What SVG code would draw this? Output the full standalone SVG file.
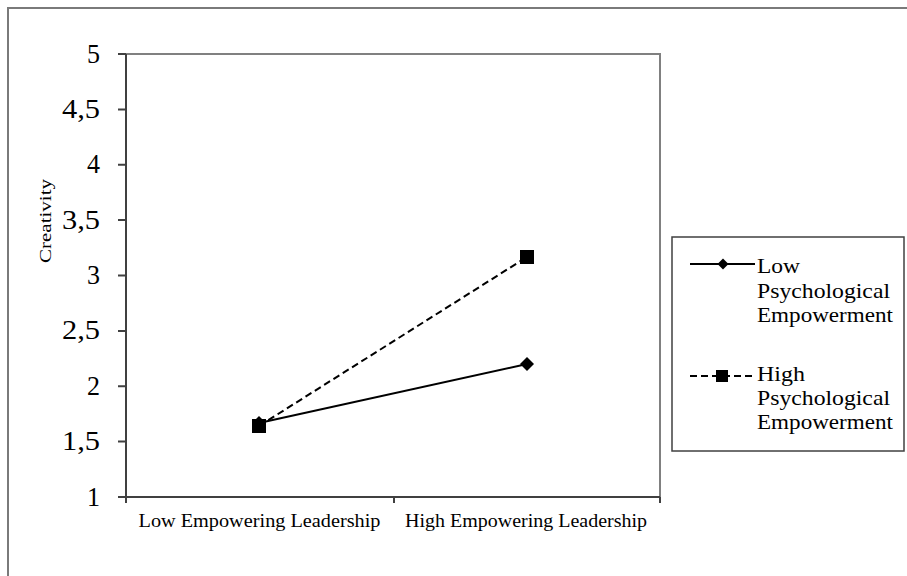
<svg xmlns="http://www.w3.org/2000/svg" width="907" height="576" viewBox="0 0 907 576">
<style>
.t{font-family:"Liberation Serif","Times New Roman",serif;fill:#000}
.ytl{font-size:27px;text-anchor:end}
.xtl{font-size:18.5px;text-anchor:middle}
.lg{font-size:21px}
.ax{stroke:#404040;stroke-width:2;fill:none}
.grid{stroke:#808080;stroke-width:2;fill:none}
.solid{stroke:#000;stroke-width:2;fill:none}
.dash{stroke:#000;stroke-width:2;fill:none;stroke-dasharray:7 4}
</style>
<rect width="907" height="576" fill="#fff"/>
<path d="M8,576 V8 H907" fill="none" stroke="#7a7a7a" stroke-width="2"/>
<g id="plot-area">
<path class="grid" d="M126,54 H660 V497"/>
<path class="ax" d="M126,54 V497 H660"/>
<path class="ax" d="M118,54 H126 M118,109.4 H126 M118,164.8 H126 M118,220.1 H126 M118,275.5 H126 M118,330.9 H126 M118,386.3 H126 M118,441.6 H126 M118,497 H126 M126,497 V503 M394,497 V503 M660,497 V503"/>
</g>
<g id="y-axis-labels" class="t ytl">
<text x="100" y="62.5" textLength="13" lengthAdjust="spacingAndGlyphs">5</text>
<text x="100" y="117.9" textLength="38" lengthAdjust="spacingAndGlyphs">4,5</text>
<text x="100" y="173.3" textLength="13" lengthAdjust="spacingAndGlyphs">4</text>
<text x="100" y="228.6" textLength="38" lengthAdjust="spacingAndGlyphs">3,5</text>
<text x="100" y="284" textLength="13" lengthAdjust="spacingAndGlyphs">3</text>
<text x="100" y="339.4" textLength="38" lengthAdjust="spacingAndGlyphs">2,5</text>
<text x="100" y="394.8" textLength="13" lengthAdjust="spacingAndGlyphs">2</text>
<text x="100" y="450.1" textLength="38" lengthAdjust="spacingAndGlyphs">1,5</text>
<text x="100" y="505.5" textLength="13" lengthAdjust="spacingAndGlyphs">1</text>
</g>
<g id="y-axis-title">
<text class="t" font-size="16" text-anchor="middle" transform="translate(51,221) rotate(-90)" textLength="84" lengthAdjust="spacingAndGlyphs">Creativity</text>
</g>
<g id="x-axis-labels" class="t xtl">
<text x="259.5" y="527" textLength="242" lengthAdjust="spacingAndGlyphs">Low Empowering Leadership</text>
<text x="526" y="527" textLength="242" lengthAdjust="spacingAndGlyphs">High Empowering Leadership</text>
</g>
<g id="connectors">
<line class="dash" x1="259" y1="426" x2="527" y2="257"/>
<line class="solid" x1="259" y1="423" x2="527" y2="364"/>
</g>
<g id="series-low">
<path d="M259,416 L266,423 L259,430 L252,423 Z" fill="#000"/>
<path d="M527,357 L534,364 L527,371 L520,364 Z" fill="#000"/>
</g>
<g id="series-high">
<rect x="252" y="419" width="14" height="14" fill="#000"/>
<rect x="520" y="250" width="14" height="14" fill="#000"/>
</g>
<g id="legend">
<rect x="672" y="237" width="232" height="214" fill="#fff" stroke="#404040" stroke-width="1.5"/>
<line class="solid" x1="690" y1="264" x2="755" y2="264"/>
<path d="M723,258.5 L728.5,264 L723,269.5 L717.5,264 Z" fill="#000"/>
<line class="dash" x1="690" y1="376" x2="755" y2="376" stroke-dasharray="6 4"/>
<rect x="716" y="370" width="12" height="12" fill="#000"/>
<g class="t lg">
<text x="757" y="273" textLength="43" lengthAdjust="spacingAndGlyphs">Low</text>
<text x="757" y="298" textLength="133" lengthAdjust="spacingAndGlyphs">Psychological</text>
<text x="757" y="322" textLength="136" lengthAdjust="spacingAndGlyphs">Empowerment</text>
<text x="757" y="381" textLength="48" lengthAdjust="spacingAndGlyphs">High</text>
<text x="757" y="405" textLength="133" lengthAdjust="spacingAndGlyphs">Psychological</text>
<text x="757" y="429" textLength="136" lengthAdjust="spacingAndGlyphs">Empowerment</text>
</g>
</g>
</svg>
